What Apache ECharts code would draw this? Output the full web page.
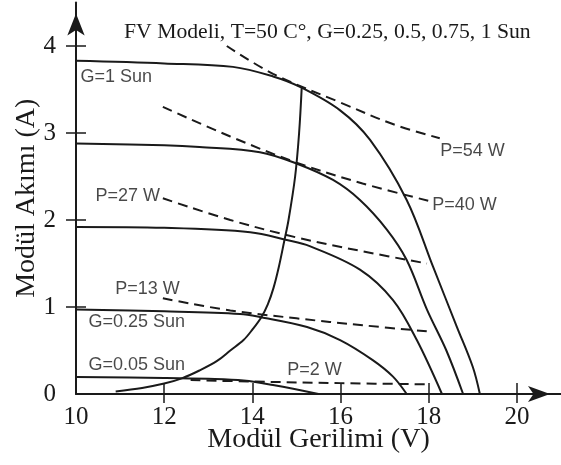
<!DOCTYPE html>
<html>
<head>
<meta charset="utf-8">
<script src="https://cdn.jsdelivr.net/npm/echarts@6/dist/echarts.min.js"></script>
<style>
  html, body { margin: 0; padding: 0; background: #fff; }
  #chart { width: 561px; height: 465px; }
</style>
</head>
<body>
<div id="chart"></div>
<script>
// I-V egrileri, [gerilim V, akim A]
var g100 = [[10, 3.83], [12, 3.8], [13.56, 3.76], [14.47, 3.65], [15.08, 3.53], [15.99, 3.26], [16.67, 2.92], [17.5, 2.23], [18.1, 1.46], [18.64, 0.77], [19.0, 0.31], [19.16, 0]]
var g075 = [[10, 2.88], [12, 2.86], [12.8, 2.84], [14.17, 2.78], [15.0, 2.65], [15.83, 2.46], [16.44, 2.23], [17.05, 1.89], [17.5, 1.54], [17.96, 0.97], [18.4, 0.5], [18.78, 0]]
var g050 = [[10, 1.92], [12, 1.91], [13.95, 1.86], [14.78, 1.77], [15.3, 1.7], [16.44, 1.43], [17.19, 1.08], [17.73, 0.62], [18.3, 0]]
var g025 = [[10, 0.97], [12, 0.95], [13.72, 0.92], [14.17, 0.885], [15.24, 0.77], [15.99, 0.62], [16.73, 0.39], [17.19, 0.2], [17.5, 0]]
var g005 = [[10, 0.195], [12, 0.185], [13, 0.175], [13.8, 0.155], [14.5, 0.1], [15.5, 0]]
// maksimum guc noktalari
var mpp = [[10.9, 0.03], [11.5, 0.07], [12.0, 0.12], [12.4, 0.18], [12.8, 0.27], [13.2, 0.38], [13.5, 0.5], [13.8, 0.62],
  [14.0, 0.74], [14.2, 0.88], [14.35, 1.03], [14.48, 1.22], [14.6, 1.46], [14.72, 1.75], [14.82, 2.0], [14.97, 2.5], [15.06, 3.0], [15.12, 3.53]]
// sabit guc egrileri (kesikli)
var p54 = [[13.42, 4.0], [14.47, 3.68], [16.0, 3.35], [17.2, 3.1], [18.25, 2.94]]
var p40 = [[11.97, 3.3], [13.5, 2.96], [15.0, 2.66], [16.5, 2.42], [18.0, 2.22]]
var p27 = [[11.97, 2.25], [13.5, 2.0], [15.0, 1.8], [16.5, 1.64], [17.96, 1.5]]
var p13 = [[11.97, 1.1], [13.5, 0.96], [15.0, 0.87], [16.5, 0.79], [17.96, 0.72]]
var p2 = [[12.6, 0.16], [14.0, 0.143], [16.0, 0.125], [18.0, 0.111]]
// etiketler
var notes = [[10.09, 3.64, 'G=1 Sun'], [18.25, 2.79, 'P=54 W'], [18.07, 2.17, 'P=40 W'], [10.43, 2.28, 'P=27 W'],
  [10.88, 1.21, 'P=13 W'], [10.27, 0.83, 'G=0.25 Sun'], [10.27, 0.33, 'G=0.05 Sun'], [14.78, 0.276, 'P=2 W']]
var xTicks = [12, 14, 16, 18, 20]
var xLabels = [10, 12, 14, 16, 18, 20]
var yTicks = [1, 2, 3, 4]
var yLabels = [0, 1, 2, 3, 4]

var ink = '#1a1a1a'
var serif = '"Liberation Serif", "DejaVu Serif", serif'
var sans = '"Liberation Sans", Arial, sans-serif'

var chart = echarts.init(document.getElementById('chart'), null, { renderer: 'canvas' })

function solid(data) {
  return { type: 'line', data: data, smooth: 0.35, showSymbol: false, silent: true,
    lineStyle: { color: ink, width: 2 } }
}
function dashed(data) {
  return { type: 'line', data: data, smooth: 0.35, showSymbol: false, silent: true,
    lineStyle: { color: ink, width: 2, type: [10, 6] } }
}

function xAxis(inner) {
  return {
    type: 'value', min: 10, max: 21, position: 'bottom',
    axisLine: inner ? { show: true, symbol: ['none', 'arrow'], symbolSize: [12, 22], symbolOffset: [0, -11],
      lineStyle: { color: ink, width: 2 } } : { show: false },
    axisTick: { show: true, inside: inner, length: inner ? 11 : 9, customValues: xTicks, lineStyle: { color: ink, width: 1.5 } },
    axisLabel: { show: inner, customValues: xLabels, fontFamily: serif, fontSize: 25, color: ink, margin: 11 },
    splitLine: { show: false },
    name: inner ? 'Modül Gerilimi (V)' : '', nameLocation: 'middle', nameGap: 32, nameMoveOverlap: false,
    nameTextStyle: { fontFamily: serif, fontSize: 28, color: ink }
  }
}
function yAxis(inner) {
  return {
    type: 'value', min: 0, max: 4.5, position: 'left',
    axisLine: inner ? { show: true, symbol: ['none', 'arrow'], symbolSize: [13, 22], symbolOffset: [0, -11],
      lineStyle: { color: ink, width: 2 } } : { show: false },
    axisTick: { show: true, inside: inner, length: 10, customValues: yTicks, lineStyle: { color: ink, width: 1.5 } },
    axisLabel: { show: inner, customValues: yLabels, fontFamily: serif, fontSize: 25, color: ink, margin: 20 },
    splitLine: { show: false },
    name: inner ? 'Modül Akımı (A)' : '', nameLocation: 'middle', nameGap: 35, nameMoveOverlap: false,
    nameTextStyle: { fontFamily: serif, fontSize: 28, color: ink }
  }
}

chart.setOption({
  animation: false,
  backgroundColor: '#fff',
  title: {
    text: 'FV Modeli, T=50 C°, G=0.25, 0.5, 0.75, 1 Sun',
    left: 124, top: 21, padding: 0,
    textStyle: { fontFamily: serif, fontWeight: 'normal', fontSize: 21.7, color: ink }
  },
  grid: { left: 76, right: 0, top: 2.5, bottom: 71, containLabel: false, outerBoundsMode: 'none' },
  xAxis: [xAxis(true), xAxis(false)],
  yAxis: [yAxis(true), yAxis(false)],
  series: [
    solid(g100), solid(g075), solid(g050), solid(g025), solid(g005), solid(mpp),
    dashed(p54), dashed(p40), dashed(p27), dashed(p13), dashed(p2),
    {
      type: 'scatter', data: notes, symbolSize: 1, silent: true,
      itemStyle: { color: 'rgba(0,0,0,0)' },
      label: {
        show: true, position: 'right', distance: 0,
        formatter: function (p) { return p.value[2] },
        fontFamily: sans, fontSize: 18, color: ink
      }
    }
  ]
})
</script>
</body>
</html>
